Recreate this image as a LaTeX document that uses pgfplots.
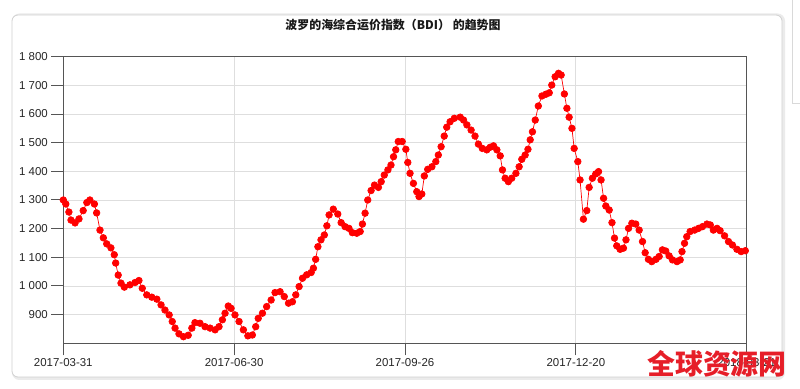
\documentclass[border=0pt]{standalone}
\usepackage{fontspec}
\setmainfont{Liberation Sans}
\newfontfamily\cjk{Noto Sans CJK SC}
\usepackage{pgfplots}
\usepackage{pgfplotstable}
\pgfplotsset{compat=1.18}
\definecolor{bdired}{RGB}{255,0,0}
\definecolor{axisgray}{RGB}{85,85,85}
\definecolor{gridgray}{RGB}{222,222,222}
\definecolor{wmred}{RGB}{230,30,40}
\pgfplotstableread{
x y
0 1300
0.9 1286
2.0 1258
2.75 1230
4.2 1220
5.6 1234
7.1 1263
8.4 1291
9.5 1300
11.1 1286
11.9 1255
13.1 1195
14.3 1168
15.5 1147
17.0 1133
18.2 1109
18.7 1080
19.6 1038
20.6 1010
21.8 996
23.8 1004
25.6 1012
27.0 1019
28.2 992
29.8 969
31.6 961
33.4 954
34.9 934
36.3 916
37.8 899
38.9 876
39.9 853
41.3 833
42.9 823
44.6 828
45.9 853
47.0 872
48.8 870
50.6 858
52.4 853
54.2 847
55.6 858
56.8 882
57.75 905
58.9 930
59.9 922
61.3 899
62.75 876
64.3 847
65.9 826
67.5 829
68.7 858
69.6 887
71.1 905
72.6 928
74.2 951
75.6 977
77.4 980
78.9 963
80.4 940
81.8 945
83.0 969
84.2 998
85.4 1027
86.9 1039
88.5 1047
89.3 1062
90.1 1093
90.9 1137
92.0 1161
93.2 1178
94.1 1210
94.9 1248
96.4 1268
98.0 1251
99.2 1221
100.6 1207
102.0 1201
103.2 1186
104.8 1184
106.0 1190
106.8 1216
107.75 1254
108.7 1300
109.9 1333
111.1 1352
112.5 1344
113.5 1364
114.6 1387
115.9 1405
117.0 1422
117.9 1451
118.7 1475
119.6 1504
121.0 1504
122.3 1477
123.0 1431
123.8 1393
125.0 1358
126.2 1329
127.0 1312
128.0 1321
128.9 1384
130.1 1407
131.6 1416
133.0 1434
133.9 1457
134.9 1486
136.0 1523
136.9 1554
138.1 1573
139.6 1585
141.7 1589
142.9 1579
144.1 1562
145.6 1544
147.0 1523
148.2 1495
149.6 1480
151.2 1475
152.4 1484
153.6 1489
154.8 1475
156.0 1454
156.8 1405
157.75 1376
158.9 1364
160.1 1376
161.6 1393
162.75 1416
163.7 1442
164.9 1457
165.9 1477
166.7 1510
167.5 1538
168.5 1579
169.6 1628
170.9 1663
172.3 1669
173.5 1674
174.4 1701
175.6 1730
176.8 1742
177.75 1736
178.9 1670
179.8 1620
180.6 1589
181.6 1550
182.4 1480
183.7 1434
184.5 1370
185.7 1233
186.9 1263
187.75 1344
188.9 1376
190.1 1391
191.1 1399
192.0 1370
192.9 1306
193.7 1279
194.9 1265
195.9 1221
196.8 1167
197.6 1140
198.8 1128
200.0 1132
200.9 1161
201.8 1201
203.0 1219
204.4 1216
205.6 1195
206.8 1155
207.75 1116
208.9 1093
210.1 1085
211.6 1093
212.75 1103
213.9 1126
215.1 1122
216.3 1105
217.5 1091
219.1 1085
220.25 1091
220.9 1120
221.8 1149
222.6 1172
223.8 1190
225.4 1195
226.8 1201
228.2 1207
229.8 1216
231.0 1213
232.1 1195
233.4 1201
234.5 1193
236.1 1175
237.5 1155
238.9 1143
240.5 1128
242.0 1120
243.5 1123
}\bdidata
\begin{document}
\begin{tikzpicture}
\useasboundingbox (0,0) rectangle (800bp,389bp);
\fill[white] (0,0) rectangle (800bp,389bp);
% right UI fragment
\draw[black!15, line width=0.8bp] (792bp,389bp) -- (792bp,286bp) -- (800bp,286bp);
% card with soft shadow
\draw[black!8, line width=3bp, rounded corners=6bp] (13.5bp,10.5bp) rectangle (783.5bp,374bp);
\draw[black!18, fill=white, line width=0.8bp, rounded corners=6bp] (12bp,12bp) rectangle (782bp,374bp);
\node[font=\cjk\bfseries\fontsize{12}{14}\selectfont, text=black!90] at (393bp,364bp) {波罗的海综合运价指数（BDI） 的趋势图};
\begin{axis}[
  at={(63.3bp,45.7bp)}, anchor=south west,
  scale only axis, width=683.4bp, height=286.6bp,
  xmin=0, xmax=244, ymin=800, ymax=1800,
  xtick={0,61,122,183,244},
  xticklabels={2017-03-31,2017-06-30,2017-09-26,2017-12-20,2018-03-21},
  ytick={900,1000,1100,1200,1300,1400,1500,1600,1700,1800},
  yticklabels={900,1 000,1 100,1 200,1 300,1 400,1 500,1 600,1 700,1 800},
  tick pos=left, tick align=outside,
  major tick length=12bp,
  tick style={draw=axisgray, line width=1bp},
  axis line style={draw=axisgray, line width=1.2bp},
  grid=major,
  major grid style={draw=gridgray, line width=0.8bp},
  ticklabel style={font=\fontsize{11.5}{13}\selectfont, text=black!85},
  /pgf/number format/assume math mode=true,
  clip=false,
]
\addplot[draw=bdired, line width=0.7bp, mark=*, mark size=3.3bp,
  mark options={fill=bdired, draw=none}] table[x=x,y=y] {\bdidata};
\end{axis}
\node[font=\cjk\bfseries\fontsize{28}{30}\selectfont, text=wmred] at (717bp,25bp) {全球资源网};
\end{tikzpicture}
\end{document}
